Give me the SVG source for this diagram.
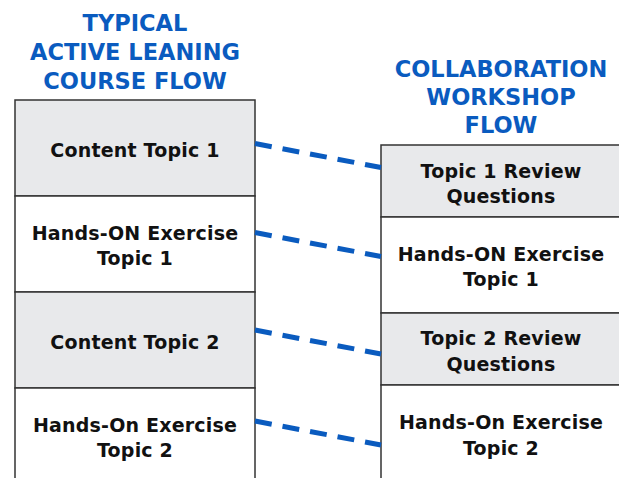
<svg xmlns="http://www.w3.org/2000/svg" width="619" height="478" viewBox="0 0 619 478">
<style>
.title{font-family:"DejaVu Sans",sans-serif;font-weight:bold;font-size:22.5px;fill:#0a5bbf;text-anchor:middle}
.lbl{font-family:"DejaVu Sans",sans-serif;font-weight:bold;font-size:19px;letter-spacing:0.2px;fill:#111;text-anchor:middle}
.grey{fill:#e8e9eb;stroke:#333;stroke-width:1.5}
.white{fill:#fff;stroke:#333;stroke-width:1.5}
.conn{stroke:#0a5bbf;stroke-width:5;stroke-dasharray:17 11;fill:none}
</style>
<rect width="619" height="478" fill="#fff"/>
<g id="title-left">
<text class="title" x="135" y="31">TYPICAL</text>
<text class="title" x="135" y="60">ACTIVE LEANING</text>
<text class="title" x="135" y="89">COURSE FLOW</text>
</g>
<g id="title-right">
<text class="title" x="501" y="77">COLLABORATION</text>
<text class="title" x="501" y="105">WORKSHOP</text>
<text class="title" x="501" y="133">FLOW</text>
</g>
<g id="left-content-1">
<rect class="grey" x="15" y="100" width="240" height="96"/>
<text class="lbl" x="135" y="157">Content Topic 1</text>
</g>
<g id="left-exercise-1">
<rect class="white" x="15" y="196" width="240" height="96"/>
<text class="lbl" x="135" y="240">Hands-ON Exercise</text>
<text class="lbl" x="135" y="265">Topic 1</text>
</g>
<g id="left-content-2">
<rect class="grey" x="15" y="292" width="240" height="96"/>
<text class="lbl" x="135" y="349">Content Topic 2</text>
</g>
<g id="left-exercise-2">
<rect class="white" x="15" y="388" width="240" height="100"/>
<text class="lbl" x="135" y="432">Hands-On Exercise</text>
<text class="lbl" x="135" y="457">Topic 2</text>
</g>
<g id="right-review-1">
<rect class="grey" x="381" y="145" width="245" height="72"/>
<text class="lbl" x="501" y="178">Topic 1 Review</text>
<text class="lbl" x="501" y="203">Questions</text>
</g>
<g id="right-exercise-1">
<rect class="white" x="381" y="217" width="245" height="96"/>
<text class="lbl" x="501" y="261">Hands-ON Exercise</text>
<text class="lbl" x="501" y="286">Topic 1</text>
</g>
<g id="right-review-2">
<rect class="grey" x="381" y="313" width="245" height="72"/>
<text class="lbl" x="501" y="345">Topic 2 Review</text>
<text class="lbl" x="501" y="371">Questions</text>
</g>
<g id="right-exercise-2">
<rect class="white" x="381" y="385" width="245" height="100"/>
<text class="lbl" x="501" y="429">Hands-On Exercise</text>
<text class="lbl" x="501" y="455">Topic 2</text>
</g>
<g id="connectors">
<line class="conn" x1="255" y1="143.5" x2="381" y2="167.5"/>
<line class="conn" x1="255" y1="232.5" x2="381" y2="256.5"/>
<line class="conn" x1="255" y1="330" x2="381" y2="354"/>
<line class="conn" x1="255" y1="421" x2="381" y2="445"/>
</g>
</svg>
